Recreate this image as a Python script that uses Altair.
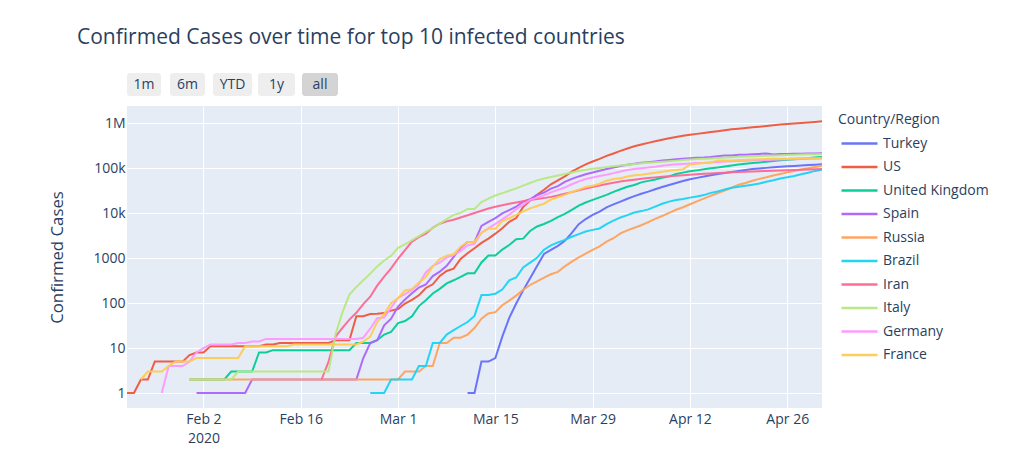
import altair as alt
import pandas as pd

# ---- data (cumulative confirmed cases, Jan 22 - May 1 2020) ----
countries = ["Turkey", "US", "United Kingdom", "Spain", "Russia",
             "Brazil", "Iran", "Italy", "Germany", "France"]
colors = ["#636EFA", "#EF553B", "#00CC96", "#AB63FA", "#FFA15A",
          "#19D3F3", "#FF6692", "#B6E880", "#FF97FF", "#FECB52"]

dates = pd.date_range("2020-01-22", "2020-05-01", freq="D").strftime("%Y-%m-%d").tolist()

turkey = [0] * 49 + [1, 1, 5, 5, 6, 18, 47, 98, 192, 359, 670, 1236, 1529, 1872, 2433, 3629,
                     5698, 7402, 9217, 10827, 13531,
                     15679, 18135, 20921, 23934, 27069, 30217, 34109, 38226, 42282, 47029,
                     52167, 56956, 61049, 65111, 69392, 74193, 78546, 82329, 86306, 90980,
                     95591, 98674, 101790, 104912, 107773, 110130, 112261, 114653, 117589, 120204,
                     122392]
us = [1, 1, 2, 2, 5, 5, 5, 5, 5, 7,
      8, 8, 11, 11, 11, 11, 11, 11, 11, 11, 12, 12, 13, 13, 13, 13, 13, 13, 13, 13,
      15, 15, 15, 51, 51, 57, 58, 60, 68,
      74, 98, 118, 149, 217, 262, 402, 518, 583, 959, 1281, 1663, 2179, 2727, 3499, 4632,
      6421, 7783, 13747, 19273, 25600, 33276, 43847, 53740, 65778, 83836, 101657, 121465,
      140909, 161831, 188172,
      213242, 243622, 275367, 308650, 336802, 366317, 397121, 428654, 462780, 496535,
      526396, 555313, 580619, 607670, 636350, 667592, 699706, 732197, 759086, 784326,
      811865, 840351, 869170, 905358, 938154, 965785, 988197, 1012582, 1039909, 1069424,
      1103461]
uk = [0] * 9 + [2,
      2, 2, 2, 2, 2, 3, 3, 3, 3, 8, 8, 9, 9, 9, 9, 9, 9, 9, 9, 9, 9, 9, 9, 13, 13, 13, 15, 20, 23,
      36, 40, 51, 86, 116, 164, 207, 274, 322, 384, 459, 459, 802, 1144, 1145, 1551, 1960,
      2642, 2716, 4014, 5067, 5745, 6726, 8164, 9640, 11812, 14745, 17312, 19780, 22453, 25481,
      29865, 34173, 38689, 42477, 48436, 52279, 55949, 61474, 65872, 74605, 79874, 85206,
      89570, 94845, 99483, 104145, 109769, 115314, 121172, 125856, 130172, 134638, 139246,
      144640, 149569, 154037, 158348, 162350, 166441, 172481,
      178685]
spain = [0] * 10 + [1, 1, 1, 1, 1, 1, 1, 1, 2, 2, 2, 2, 2, 2, 2, 2, 2, 2, 2, 2, 2, 2, 2, 2, 6, 13, 15, 32, 45,
      84, 120, 165, 222, 259, 400, 500, 673, 1073, 1695, 2277, 2277, 5232, 6391, 7798, 9942,
      11748, 13910, 17963, 20410, 25374, 28603, 35136, 39885, 49515, 57786, 65719, 73235,
      80110, 87956, 95923,
      104118, 112065, 119199, 126168, 131646, 136675, 141942, 148220, 153222, 158273,
      163027, 166831, 170099, 172541, 177644, 184948, 190839, 191726, 198674, 200210,
      204178, 208389, 213024, 202990, 205905, 207634, 209465, 210773, 212917, 213435,
      215216]
russia = [0] * 9 + [2] + [2] * 29 + [
      2, 3, 3, 3, 4, 4, 13, 13, 17, 17, 20, 28, 45, 59, 63, 90, 114, 147, 199, 253, 306, 367,
      438, 495, 658, 840, 1036, 1264, 1534, 1836, 2337,
      2777, 3548, 4149, 4731, 5389, 6343, 7497, 8672, 10131, 11917, 13584, 15770, 18328,
      21102, 24490, 27938, 32008, 36793, 42853, 47121, 52763, 57999, 62773, 68622, 74588,
      80949, 87147, 93558, 99399, 106498,
      114431]
brazil = [0] * 35 + [1, 1, 1, 2,
      2, 2, 2, 4, 4, 13, 13, 20, 25, 31, 38, 52, 151, 151, 162, 200, 321, 372, 621, 793, 1021,
      1546, 1924, 2247, 2554, 2985, 3417, 3904, 4256, 4579, 5717,
      6836, 8044, 9056, 10360, 11130, 12161, 14034, 16170, 18092, 19638, 20727, 22192, 23430,
      25262, 28320, 30425, 33682, 36658, 38654, 40743, 43079, 45757, 50036, 54043, 59324,
      63100, 67446, 73235, 79685, 87187,
      92202]
iran = [0] * 28 + [2, 5, 18, 28, 43, 61, 95, 139, 245, 388, 593,
      978, 1501, 2336, 2922, 3513, 4747, 5823, 6566, 7161, 8042, 9000, 10075, 11364, 12729,
      13938, 14991, 16169, 17361, 18407, 19644, 20610, 21638, 23049, 24811, 27017, 29406,
      32332, 35408, 38309, 41495, 44605,
      47593, 50468, 53183, 55743, 58226, 60500, 62589, 64586, 66220, 68192, 70029, 71686,
      73303, 74877, 76389, 77995, 79494, 80868, 82211, 83505, 84802, 85996, 87026, 88194,
      89328, 90481, 91472, 92584, 93657, 94640,
      95646]
italy = [0] * 9 + [2,
      2, 2, 2, 2, 2, 2, 3, 3, 3, 3, 3, 3, 3, 3, 3, 3, 3, 3, 3, 3, 20, 62, 155, 229, 322, 453, 655, 888, 1128,
      1694, 2036, 2502, 3089, 3858, 4636, 5883, 7375, 9172, 10149, 12462, 12462, 17660, 21157,
      24747, 27980, 31506, 35713, 41035, 47021, 53578, 59138, 63927, 69176, 74386, 80589,
      86498, 92472, 97689, 101739, 105792,
      110574, 115242, 119827, 124632, 128948, 132547, 135586, 139422, 143626, 147577,
      152271, 156363, 159516, 162488, 165155, 168941, 172434, 175925, 178972, 181228,
      183957, 187327, 189973, 192994, 195351, 197675, 199414, 201505, 203591, 205463,
      207428]
germany = [0] * 5 + [1, 4, 4, 4, 5,
      8, 10, 12, 12, 12, 12, 13, 13, 14, 14, 16, 16, 16, 16, 16, 16, 16, 16, 16, 16, 16, 16, 16, 16,
      17, 27, 46, 48, 79,
      130, 159, 196, 262, 482, 670, 799, 1040, 1176, 1457, 1908, 2078, 3675, 4585, 5795, 7272,
      9257, 12327, 15320, 19848, 22213, 24873, 29056, 32986, 37323, 43938, 50871, 57695,
      62095, 66885, 71808,
      77872, 84794, 91159, 96092, 100123, 103374, 107663, 113296, 118181, 122171, 124908,
      127854, 130072, 131359, 134753, 137698, 141397, 143342, 145184, 147065, 148291,
      150648, 153129, 154999, 156513, 157770, 158758, 159912, 161539, 163009,
      164077]
france = [0, 0, 2, 3, 3, 3, 4, 5, 5, 5,
      6, 6, 6, 6, 6, 6, 6, 11, 11, 11, 11, 11, 11, 11, 12, 12, 12, 12, 12, 12, 12, 12, 12, 12,
      14, 18, 38, 57, 100,
      130, 191, 204, 288, 380, 656, 959, 1136, 1219, 1794, 2293, 2293, 3681, 4496, 4532, 6683,
      7715, 9124, 10970, 12758, 14463, 16243, 20123, 22622, 25600, 29551, 33402, 38105,
      40708, 45170, 52827,
      57749, 59929, 65202, 69500, 71412, 75343, 79163, 83057, 87366, 91738, 94863, 121712,
      125394, 131361, 134582, 147577, 148084, 148086, 153011, 154188, 156921, 158636,
      159952, 161644, 161488, 162220, 165963, 169053, 166543, 167299,
      167305]

series = [turkey, us, uk, spain, russia, brazil, iran, italy, germany, france]

y_ticks = [1, 10, 100, 1000, 10000, 100000, 1000000]
x_ticks = ["2020-02-02", "2020-02-16", "2020-03-01", "2020-03-15",
           "2020-03-29", "2020-04-12", "2020-04-26"]
buttons = ["1m", "6m", "YTD", "1y", "all"]

# ---- build long table ----
rows = []
for name, vals in zip(countries, series):
    for d, v in zip(dates, vals):
        if v > 0:
            rows.append({"Date": d, "Confirmed": v, "Country/Region": name})
df = pd.DataFrame(rows)

FONT = "Open Sans"
INK = "#2a3f5f"
W, H = 695, 302

def dt(s):
    y, m, d = map(int, s.split("-"))
    return alt.DateTime(year=y, month=m, date=d, utc=True)

lines = alt.Chart(df).mark_line(strokeWidth=2, opacity=0.95).encode(
    x=alt.X("Date:T",
            scale=alt.Scale(type="utc", domain=[dt(dates[0]), dt(dates[-1])], nice=False),
            axis=alt.Axis(values=[dt(s) for s in x_ticks], title=None, ticks=False,
                          domain=False, gridColor="white", gridWidth=1,
                          labelFont=FONT, labelFontSize=14, labelColor=INK,
                          labelPadding=4, labelLineHeight=19,
                          labelExpr="utcFormat(datum.value, '%m-%d') == '02-02' ? "
                                    "[utcFormat(datum.value, '%b %-d'), '2020'] : "
                                    "utcFormat(datum.value, '%b %-d')")),
    y=alt.Y("Confirmed:Q",
            scale=alt.Scale(type="log", domain=[0.465, 2420000], nice=False),
            axis=alt.Axis(values=y_ticks, title="Confirmed Cases", ticks=False, domain=False,
                          gridColor="white", gridWidth=1,
                          labelFont=FONT, labelFontSize=14, labelColor=INK, labelPadding=2,
                          labelExpr="datum.value >= 1000000 ? format(datum.value / 1000000, 'd') + 'M' : "
                                    "datum.value >= 10000 ? format(datum.value / 1000, 'd') + 'k' : "
                                    "format(datum.value, 'd')",
                          titleFont=FONT, titleFontSize=16.8, titleFontWeight="normal",
                          titleColor=INK, titleX=-70, titleY=H / 2, titleAngle=-90,
                          titleAlign="center", titleBaseline="middle")),
    color=alt.Color("Country/Region:N",
                    scale=alt.Scale(domain=countries, range=colors),
                    sort=countries,
                    legend=alt.Legend(orient="none", legendX=711, legendY=7,
                                      title="Country/Region", titleFont=FONT, titleFontSize=14,
                                      titleFontWeight="normal", titleColor=INK, titlePadding=6,
                                      labelFont=FONT, labelFontSize=14, labelColor=INK,
                                      symbolType="M-2,0L2,0", symbolSize=324,
                                      symbolStrokeWidth=2.5, symbolOffset=11,
                                      labelOffset=13, rowPadding=5.5, padding=0)),
    detail="Country/Region:N",
)

# title text (decorative)
one = pd.DataFrame({"t": ["Confirmed Cases over time for top 10 infected countries"]})
title = alt.Chart(one).mark_text(font=FONT, fontSize=21, color=INK, align="left",
                                 baseline="middle").encode(
    x=alt.value(-50), y=alt.value(-68), text="t:N")

# range selector buttons (decorative UI)
btn_x = [(0, 34), (43, 78), (86, 125), (131, 168), (175, 211)]
layers = [lines, title]
for label, (x0, x1) in zip(buttons, btn_x):
    bdf = pd.DataFrame({"t": [label]})
    fill = "#d4d4d4" if label == "all" else "#eeeeee"
    layers.append(alt.Chart(bdf).mark_rect(fill=fill, cornerRadius=3).encode(
        x=alt.value(x0), x2=alt.value(x1), y=alt.value(-33), y2=alt.value(-10)))
    layers.append(alt.Chart(bdf).mark_text(font=FONT, fontSize=14, color=INK,
                                           baseline="middle").encode(
        x=alt.value((x0 + x1) / 2), y=alt.value(-21.5), text="t:N"))

chart = alt.layer(*layers).properties(
    width=W, height=H,
    background="white",
    padding={"left": 119, "top": 98, "right": 194, "bottom": 40},
    autosize=alt.AutoSizeParams(type="none"),
).configure_view(fill="#E5ECF6", stroke=None)

chart.save("out.html", embed_options={"renderer": "svg", "actions": False})
